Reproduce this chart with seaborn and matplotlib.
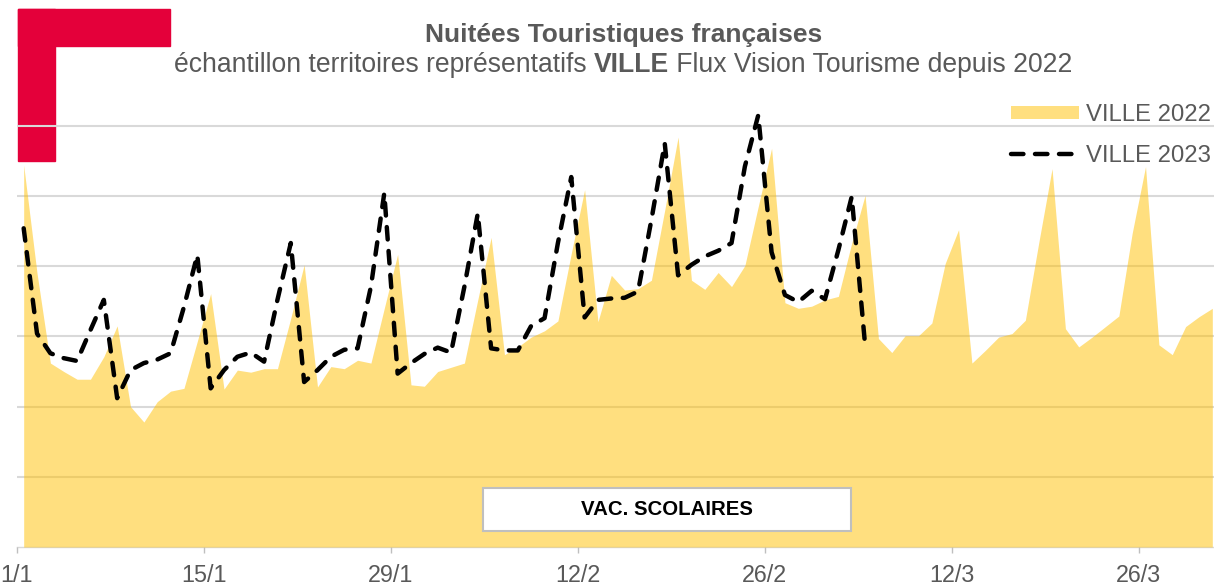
import numpy as np
import pandas as pd
import matplotlib
matplotlib.use("Agg")
import matplotlib.pyplot as plt
import seaborn as sns
from matplotlib.patches import Rectangle

# ---------------- data ----------------
ville_2022 = [5.44, 3.90, 2.62, 2.50, 2.39, 2.39, 2.71, 3.15, 2.00, 1.78,
              2.07, 2.22, 2.26, 2.93, 3.61, 2.25, 2.52, 2.49, 2.54, 2.54,
              3.26, 4.02, 2.28, 2.57, 2.54, 2.66, 2.62, 3.40, 4.17, 2.31,
              2.29, 2.50, 2.56, 2.62, 3.52, 4.41, 2.74, 2.85, 2.99, 3.08,
              3.22, 4.18, 5.09, 3.21, 3.87, 3.66, 3.68, 3.80, 4.80, 5.84,
              3.80, 3.67, 3.91, 3.71, 4.01, 4.85, 5.68, 3.48, 3.40, 3.43,
              3.52, 3.57, 4.33, 5.01, 2.97, 2.77, 3.01, 3.01, 3.19, 4.04,
              4.52, 2.62, 2.80, 2.99, 3.04, 3.23, 4.33, 5.39, 3.11, 2.85,
              2.99, 3.14, 3.29, 4.47, 5.42, 2.88, 2.74, 3.14, 3.28, 3.40]
ville_2023 = [4.54, 3.04, 2.76, 2.69, 2.65, 3.09, 3.52, 2.12, 2.52, 2.62,
              2.67, 2.76, 3.42, 4.16, 2.26, 2.52, 2.71, 2.77, 2.64, 3.52,
              4.33, 2.35, 2.52, 2.71, 2.81, 2.83, 3.71, 5.04, 2.47, 2.62,
              2.75, 2.84, 2.77, 3.71, 4.75, 2.83, 2.80, 2.80, 3.15, 3.26,
              4.33, 5.27, 3.27, 3.52, 3.54, 3.55, 3.64, 4.66, 5.75, 3.87,
              4.02, 4.14, 4.22, 4.33, 5.42, 6.15, 4.20, 3.59, 3.49, 3.65,
              3.53, 4.23, 4.99, 2.88]
tick_days = [0, 14, 28, 42, 56, 70, 84]
tick_labels = ["1/1", "15/1", "29/1", "12/2", "26/2", "12/3", "26/3"]
grid_values = [1, 2, 3, 4, 5, 6]
series_labels = ["VILLE 2022", "VILLE 2023"]
title = "Nuitées Touristiques françaises"
subtitle_parts = ["échantillon territoires représentatifs ", "VILLE",
                  " Flux Vision Tourisme depuis 2022"]
vac_label = "VAC. SCOLAIRES"
n_days = 90

# ---------------- style ----------------
sns.set_theme(style="white")
plt.rcParams["font.family"] = ["Liberation Sans", "DejaVu Sans"]

AREA_COLOR = "#FFC000"
RED = "#E4003A"
GREY_TXT = "#595959"
GRID = "#D9D9D9"

W, H = 1214, 586
fig = plt.figure(figsize=(W / 100, H / 100), dpi=100)
ax = fig.add_axes([17 / W, 39 / H, 1202 / W, 456.3 / H])
ax.patch.set_visible(False)

df22 = pd.DataFrame({"jour": np.arange(len(ville_2022)) + 0.5,
                     "nuitees": ville_2022})
df23 = pd.DataFrame({"jour": np.arange(len(ville_2023)) + 0.5,
                     "nuitees": ville_2023})

area = ax.fill_between(df22["jour"], 0, df22["nuitees"], color=AREA_COLOR,
                       alpha=0.5, linewidth=0, zorder=1,
                       label=series_labels[0])
sns.lineplot(data=df23, x="jour", y="nuitees", ax=ax, color="black",
             linewidth=3.2, linestyle=(0, (2.8, 2.6)),
             dash_capstyle="round", zorder=3, label=series_labels[1])
line = ax.lines[-1]

ax.set_xlim(0, n_days)
ax.set_ylim(0, 6.5)
ax.set_xlabel("")
ax.set_ylabel("")

ax.set_yticks(grid_values)
ax.tick_params(axis="y", left=False, labelleft=False)
ax.set_axisbelow(True)
ax.yaxis.grid(True, color=GRID, linewidth=1.5)
ax.xaxis.grid(False)

ax.set_xticks(tick_days)
ax.set_xticklabels(tick_labels)
ax.tick_params(axis="x", bottom=True, length=4.5, width=1, color="#BFBFBF",
               labelsize=16.8, labelcolor=GREY_TXT, pad=7.5)
for s in ["left", "top", "right"]:
    ax.spines[s].set_visible(False)
ax.spines["bottom"].set_color(GRID)
ax.spines["bottom"].set_linewidth(1)
ax.spines["bottom"].set_zorder(0.5)

# red corner mark (behind the gridlines)
fig.add_artist(Rectangle((18 / W, 1 - 46 / H), 152 / W, 37 / H,
                         transform=fig.transFigure, color=RED, zorder=-1))
fig.add_artist(Rectangle((18 / W, 1 - 161 / H), 37 / W, 152 / H,
                         transform=fig.transFigure, color=RED, zorder=-1))

# title
fig.text(623.5 / W, 1 - 42 / H, title, ha="center", va="baseline",
         fontsize=19, weight="bold", color=GREY_TXT)

# subtitle with bold part
renderer = fig.canvas.get_renderer()
weights = ["normal", "bold", "normal"]
pieces = []
for part, w in zip(subtitle_parts, weights):
    t = fig.text(0, 1 - 72 / H, part, ha="left", va="baseline",
                 fontsize=19.1, weight=w, color=GREY_TXT)
    pieces.append(t)
widths = [p.get_window_extent(renderer).width for p in pieces]
x0 = 623.5 - sum(widths) / 2
for p, wd in zip(pieces, widths):
    p.set_x(x0 / W)
    x0 += wd

# legend
leg = ax.legend(handles=[area, line], labels=series_labels,
                loc="upper right", bbox_to_anchor=(1211 / W, 1 - 104 / H),
                bbox_transform=fig.transFigure, frameon=False,
                fontsize=17.2, handlelength=2.85, handleheight=0.5,
                handletextpad=0.3, labelspacing=0.8, borderpad=0,
                borderaxespad=0)
for t in leg.get_texts():
    t.set_color(GREY_TXT)

# school holidays label
bx0, bx1 = 0.3877, 0.6938
by0, by1 = 0.0351, 0.1293
ax.add_patch(Rectangle((bx0, by0), bx1 - bx0, by1 - by0,
                       transform=ax.transAxes, facecolor="white",
                       edgecolor="#BFBFBF", linewidth=1.5, zorder=4))
ax.text((bx0 + bx1) / 2, (by0 + by1) / 2, vac_label, transform=ax.transAxes,
        ha="center", va="center", fontsize=14.7, weight="bold",
        color="black", zorder=5)

fig.savefig("out.png", dpi=100)
